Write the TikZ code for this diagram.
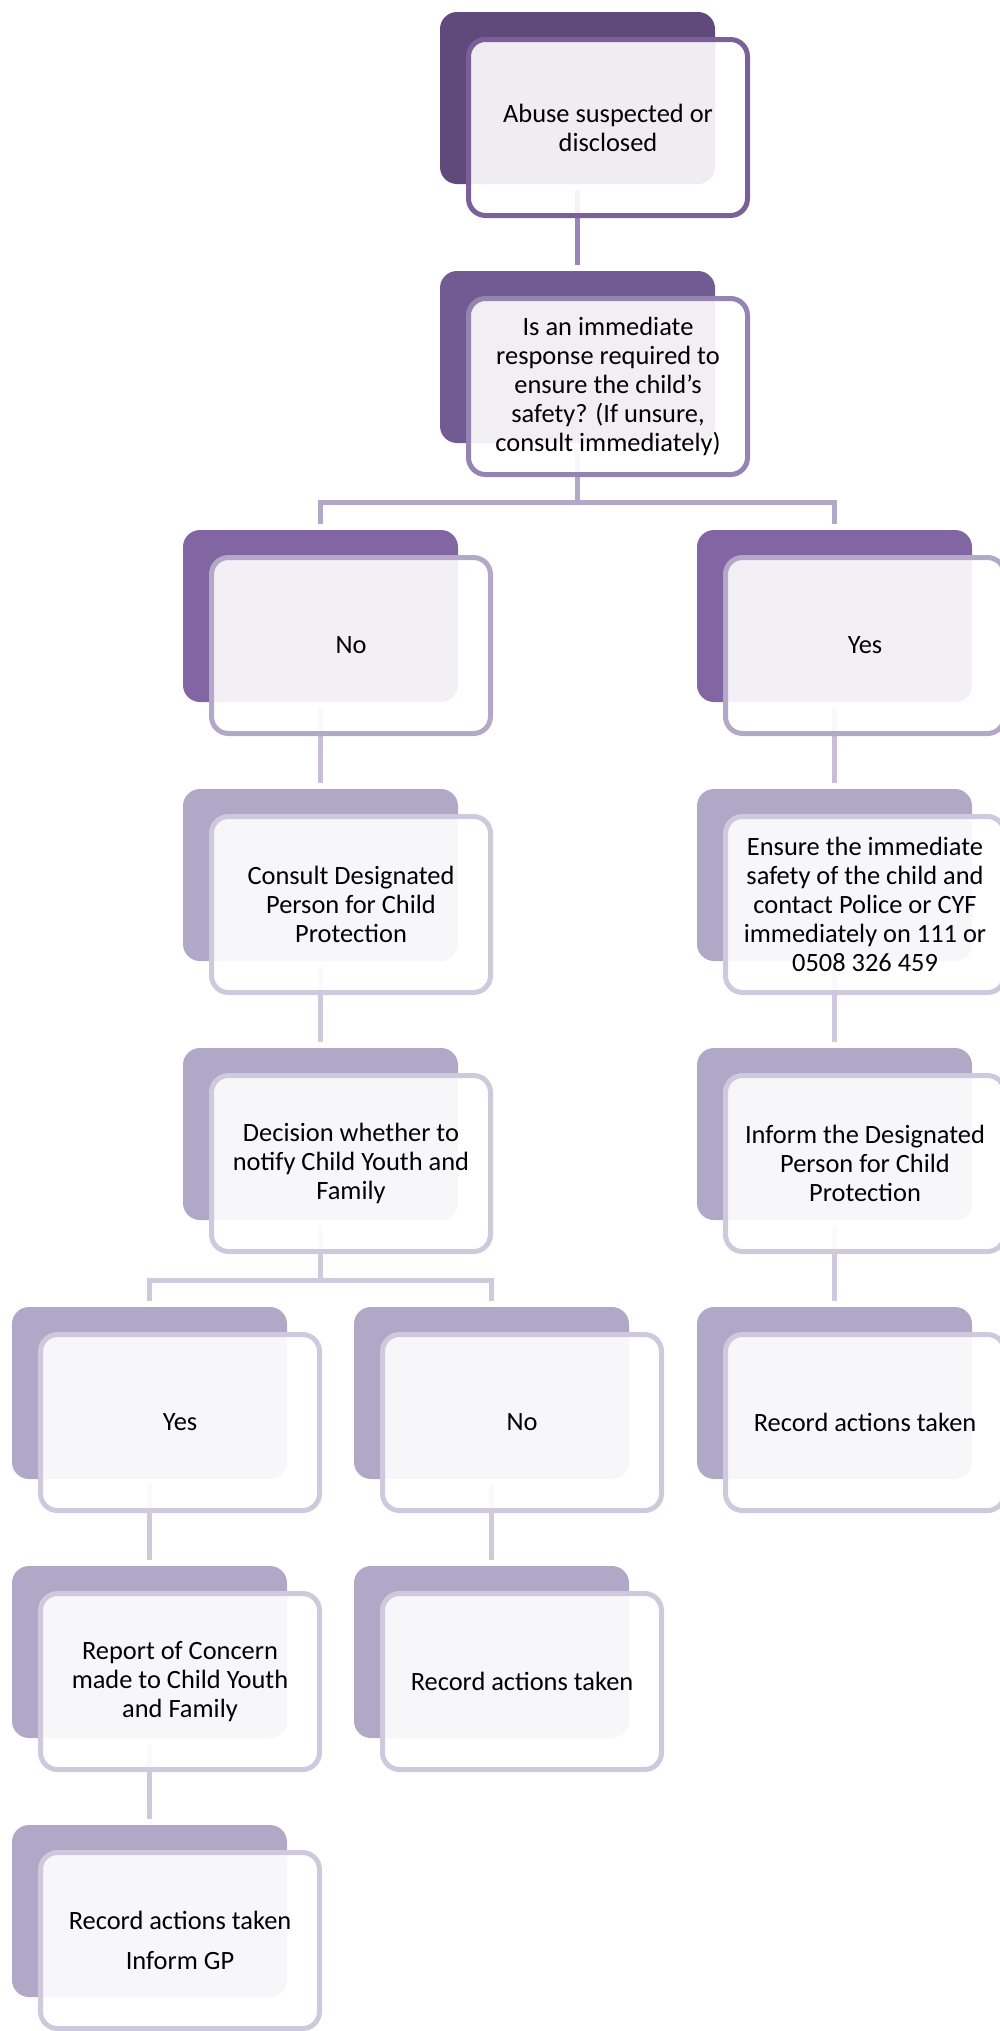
\documentclass[tikz,border=0pt]{standalone}
\usepackage{fontspec}
\setmainfont{Carlito}
\usetikzlibrary{calc}
\definecolor{bk0}{HTML}{604A7B}
\definecolor{bk1}{HTML}{725A92}
\definecolor{bk2}{HTML}{8266A3}
\definecolor{bk3}{HTML}{B1A7C6}
\definecolor{fr0}{HTML}{7A5F9B}
\definecolor{fr1}{HTML}{9583B3}
\definecolor{fr2}{HTML}{B4A8C9}
\definecolor{fr3}{HTML}{D0C8DC}
\definecolor{cn0}{HTML}{9884B5}
\definecolor{cn1}{HTML}{B4A8C9}
\definecolor{cn2}{HTML}{C8BED7}
\definecolor{cn3}{HTML}{D0C8DC}
\tikzset{
  backbox/.style={rectangle, rounded corners=8.5pt, minimum width=137.5pt, minimum height=86pt,
    inner sep=0pt, outer sep=0pt, anchor=north west, draw=none},
  frontbox/.style={rectangle, rounded corners=8.5pt, minimum width=139.5pt, minimum height=88pt,
    inner sep=0pt, outer sep=0pt, line width=2.5pt, fill=white, fill opacity=0.9, text opacity=1,
    align=center, font=\fontsize{13.2pt}{14.5pt}\selectfont, anchor=north west},
  conn/.style={line width=2.5pt}
}
\newcommand\backat[4]{\node[backbox, fill=#4] (b#1) at (#2,#3) {};}
\newcommand\frontat[5]{\node[frontbox, draw=#4] (f#1) at ($(#2,#3)+(28.5,27.5)$) {#5};}
\begin{document}
\begin{tikzpicture}[x=0.5pt,y=-0.5pt]
\useasboundingbox (0,0) rectangle (1000,2031);
\clip (0,0) rectangle (1000,2031);
% back boxes
\backat{D0}{440}{12}{bk0}
\backat{D1}{440}{271}{bk1}
\backat{C2}{183}{530}{bk2}
\backat{E2}{697}{530}{bk2}
\backat{C3}{183}{789}{bk3}
\backat{E3}{697}{789}{bk3}
\backat{C4}{183}{1048}{bk3}
\backat{E4}{697}{1048}{bk3}
\backat{A5}{12}{1307}{bk3}
\backat{B5}{354}{1307}{bk3}
\backat{E5}{697}{1307}{bk3}
\backat{A6}{12}{1566}{bk3}
\backat{B6}{354}{1566}{bk3}
\backat{A7}{12}{1825}{bk3}
% connectors
\draw[conn, draw=cn0] ([yshift=-3pt]bD0.south) -- ([yshift=3pt]bD1.north);
\coordinate (s1) at (577.5,502);
\draw[conn, draw=cn1] ([yshift=-3pt]bD1.south) -- (s1);
\draw[conn, draw=cn1] ([yshift=3pt]bC2.north) |- (s1) -| ([yshift=3pt]bE2.north);
\draw[conn, draw=cn2] ([yshift=-3pt]bC2.south) -- ([yshift=3pt]bC3.north);
\draw[conn, draw=cn2] ([yshift=-3pt]bE2.south) -- ([yshift=3pt]bE3.north);
\draw[conn, draw=cn3] ([yshift=-3pt]bC3.south) -- ([yshift=3pt]bC4.north);
\draw[conn, draw=cn3] ([yshift=-3pt]bE3.south) -- ([yshift=3pt]bE4.north);
\draw[conn, draw=cn3] ([yshift=-3pt]bE4.south) -- ([yshift=3pt]bE5.north);
\coordinate (s2) at (320.5,1280);
\draw[conn, draw=cn3] ([yshift=-3pt]bC4.south) -- (s2);
\draw[conn, draw=cn3] ([yshift=3pt]bA5.north) |- (s2) -| ([yshift=3pt]bB5.north);
\draw[conn, draw=cn3] ([yshift=-3pt]bA5.south) -- ([yshift=3pt]bA6.north);
\draw[conn, draw=cn3] ([yshift=-3pt]bA6.south) -- ([yshift=3pt]bA7.north);
\draw[conn, draw=cn3] ([yshift=-3pt]bB5.south) -- ([yshift=3pt]bB6.north);
% front boxes
\frontat{D0}{440}{12}{fr0}{Abuse suspected or\\disclosed}
\frontat{D1}{440}{271}{fr1}{Is an immediate\\response required to\\ensure the child’s\\safety? (If unsure,\\consult immediately)}
\frontat{C2}{183}{530}{fr2}{No}
\frontat{E2}{697}{530}{fr2}{Yes}
\frontat{C3}{183}{789}{fr3}{Consult Designated\\Person for Child\\Protection}
\frontat{E3}{697}{789}{fr3}{Ensure the immediate\\safety of the child and\\contact Police or CYF\\immediately on 111 or\\0508 326 459}
\frontat{C4}{183}{1048}{fr3}{Decision whether to\\notify Child Youth and\\Family}
\frontat{E4}{697}{1048}{fr3}{Inform the Designated\\Person for Child\\Protection}
\frontat{A5}{12}{1307}{fr3}{Yes}
\frontat{B5}{354}{1307}{fr3}{No}
\frontat{E5}{697}{1307}{fr3}{Record actions taken}
\frontat{A6}{12}{1566}{fr3}{Report of Concern\\made to Child Youth\\and Family}
\frontat{B6}{354}{1566}{fr3}{Record actions taken}
\frontat{A7}{12}{1825}{fr3}{Record actions taken\\[5.5pt]Inform GP}
\end{tikzpicture}
\end{document}
